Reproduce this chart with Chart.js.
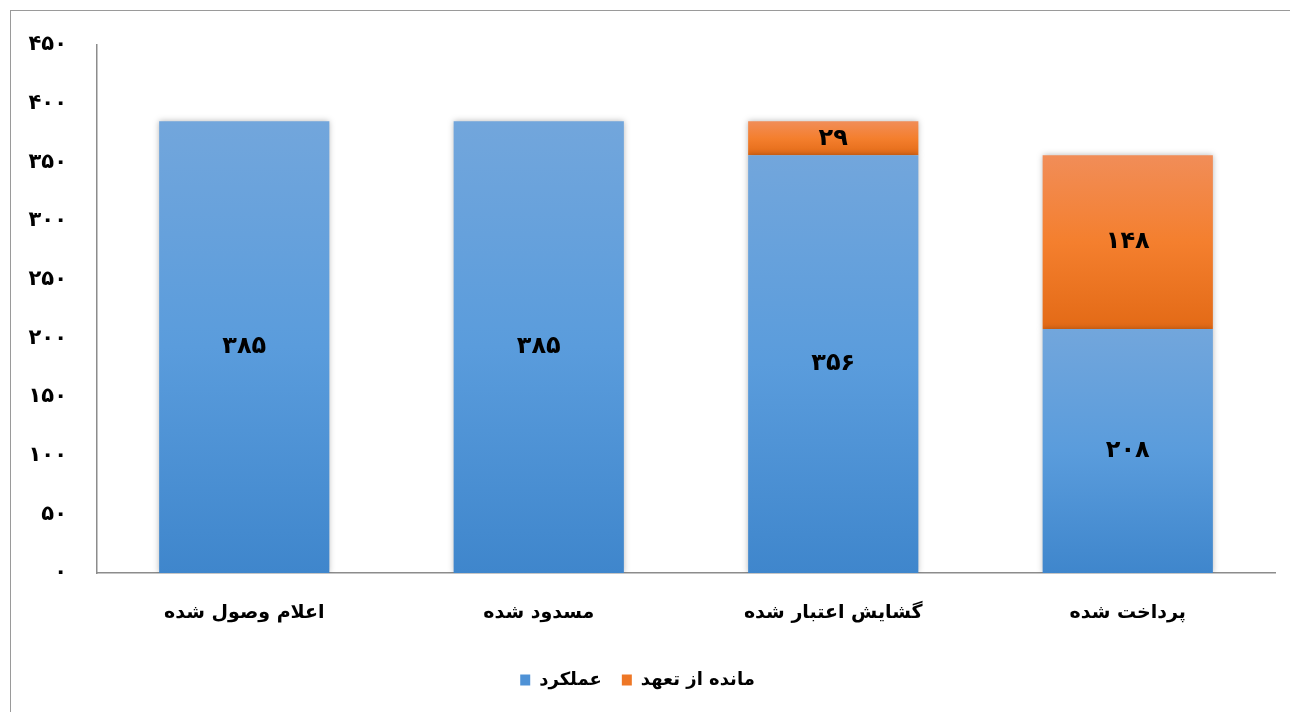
<!DOCTYPE html>
<html>
<head>
<meta charset="utf-8">
<script src="https://cdn.jsdelivr.net/npm/chart.js@4/dist/chart.umd.min.js"></script>
<style>
  html, body { margin: 0; padding: 0; background: #fff; overflow: hidden; }
  #wrap { position: relative; width: 1290px; height: 712px; }
  #frame { position: absolute; left: 10px; top: 10px; width: 1300px; height: 720px; border: 1.5px solid #9a9a9a; box-sizing: border-box; }
  canvas { position: absolute; left: 0; top: 0; }
</style>
</head>
<body>
<div id="wrap">
  <div id="frame"></div>
  <canvas id="chart" width="1290" height="712"></canvas>
</div>
<script>
// categories and series
const categories = ['اعلام وصول شده', 'مسدود شده', 'گشایش اعتبار شده', 'پرداخت شده']
const performance = [385, 385, 356, 208]   // عملکرد
const remaining = [null, null, 29, 148]    // مانده از تعهد
const seriesNames = ['عملکرد', 'مانده از تعهد']
const yTicks = [0, 50, 100, 150, 200, 250, 300, 350, 400, 450]

const FONT = "'DejaVu Sans', sans-serif"

// western digits -> persian digits
const toFa = n => String(n).replace(/\d/g, d => '۰۱۲۳۴۵۶۷۸۹'[d])

// vertical gradient per bar segment, computed from the y scale
function segGradient(colors) {
  return (c) => {
    const chart = c.chart
    const y = chart.scales && chart.scales.y
    if (!chart.chartArea || !y || c.dataIndex == null) return colors[1]
    let base = 0
    for (let d = 0; d < c.datasetIndex; d++) base += chart.data.datasets[d].data[c.dataIndex] || 0
    const val = chart.data.datasets[c.datasetIndex].data[c.dataIndex] || 0
    const top = y.getPixelForValue(base + val)
    const bottom = y.getPixelForValue(base)
    if (!isFinite(top) || !isFinite(bottom) || top === bottom) return colors[1]
    const g = chart.ctx.createLinearGradient(0, top, 0, bottom)
    g.addColorStop(0, colors[0])
    g.addColorStop(0.5, colors[1])
    g.addColorStop(1, colors[2])
    return g
  }
}

const blues = ['#72a6dc', '#5a9cdc', '#3f86cc']
const oranges = ['#f18d58', '#f47f2e', '#e36a16']

// soft shadow behind the bars
const barShadow = {
  id: 'barShadow',
  beforeDatasetsDraw(chart) {
    const ctx = chart.ctx
    ctx.save()
    ctx.shadowColor = 'rgba(0,0,0,0.28)'
    ctx.shadowBlur = 6
  },
  afterDatasetsDraw(chart) {
    chart.ctx.restore()
  }
}

// value labels in the middle of each segment
const segLabels = {
  id: 'segLabels',
  afterDatasetsDraw(chart) {
    const ctx = chart.ctx
    ctx.save()
    ctx.font = 'bold 24px ' + FONT
    ctx.fillStyle = '#000'
    ctx.textAlign = 'center'
    ctx.textBaseline = 'middle'
    chart.data.datasets.forEach((ds, di) => {
      const meta = chart.getDatasetMeta(di)
      meta.data.forEach((bar, i) => {
        const v = ds.data[i]
        if (v == null) return
        const p = bar.getProps(['x', 'y', 'base'], true)
        ctx.fillText(toFa(v), p.x, (p.y + p.base) / 2)
      })
    })
    ctx.restore()
  }
}

new Chart(document.getElementById('chart'), {
  type: 'bar',
  data: {
    labels: categories,
    datasets: [
      {
        label: seriesNames[0],
        data: performance,
        backgroundColor: segGradient(blues),
        borderWidth: 0
      },
      {
        label: seriesNames[1],
        data: remaining,
        backgroundColor: segGradient(oranges),
        borderWidth: 0
      }
    ]
  },
  options: {
    responsive: false,
    animation: false,
    layout: { padding: { top: 45, right: 15, bottom: 13, left: 0 } },
    datasets: { bar: { categoryPercentage: 1, barPercentage: 0.578 } },
    plugins: {
      legend: {
        position: 'bottom',
        labels: {
          boxWidth: 10,
          boxHeight: 11,
          padding: 20,
          color: '#000',
          font: { family: FONT, size: 18, weight: 'bold' },
          generateLabels: chart => chart.data.datasets.map((ds, i) => ({
            text: ds.label,
            fillStyle: i === 0 ? '#4f92d6' : '#ee7726',
            strokeStyle: 'rgba(0,0,0,0)',
            lineWidth: 0,
            datasetIndex: i
          }))
        }
      },
      tooltip: { enabled: false }
    },
    scales: {
      x: {
        stacked: true,
        grid: { display: false, drawTicks: false },
        border: { display: true, color: '#8c8c8c', width: 1.5 },
        ticks: {
          color: '#000',
          padding: 29,
          maxRotation: 0,
          font: { family: FONT, size: 19, weight: 'bold' }
        },
        afterFit: scale => { scale.height = 78 }
      },
      y: {
        stacked: true,
        min: 0,
        max: 450,
        grid: { display: false, drawTicks: false },
        border: { display: true, color: '#8c8c8c', width: 1.5 },
        afterBuildTicks: scale => { scale.ticks = yTicks.map(v => ({ value: v })) },
        afterFit: scale => { scale.width = 97 },
        ticks: {
          color: '#000',
          padding: 30,
          font: { family: FONT, size: 21, weight: 'bold' },
          callback: v => toFa(v)
        }
      }
    }
  },
  plugins: [barShadow, segLabels]
})
</script>
</body>
</html>
